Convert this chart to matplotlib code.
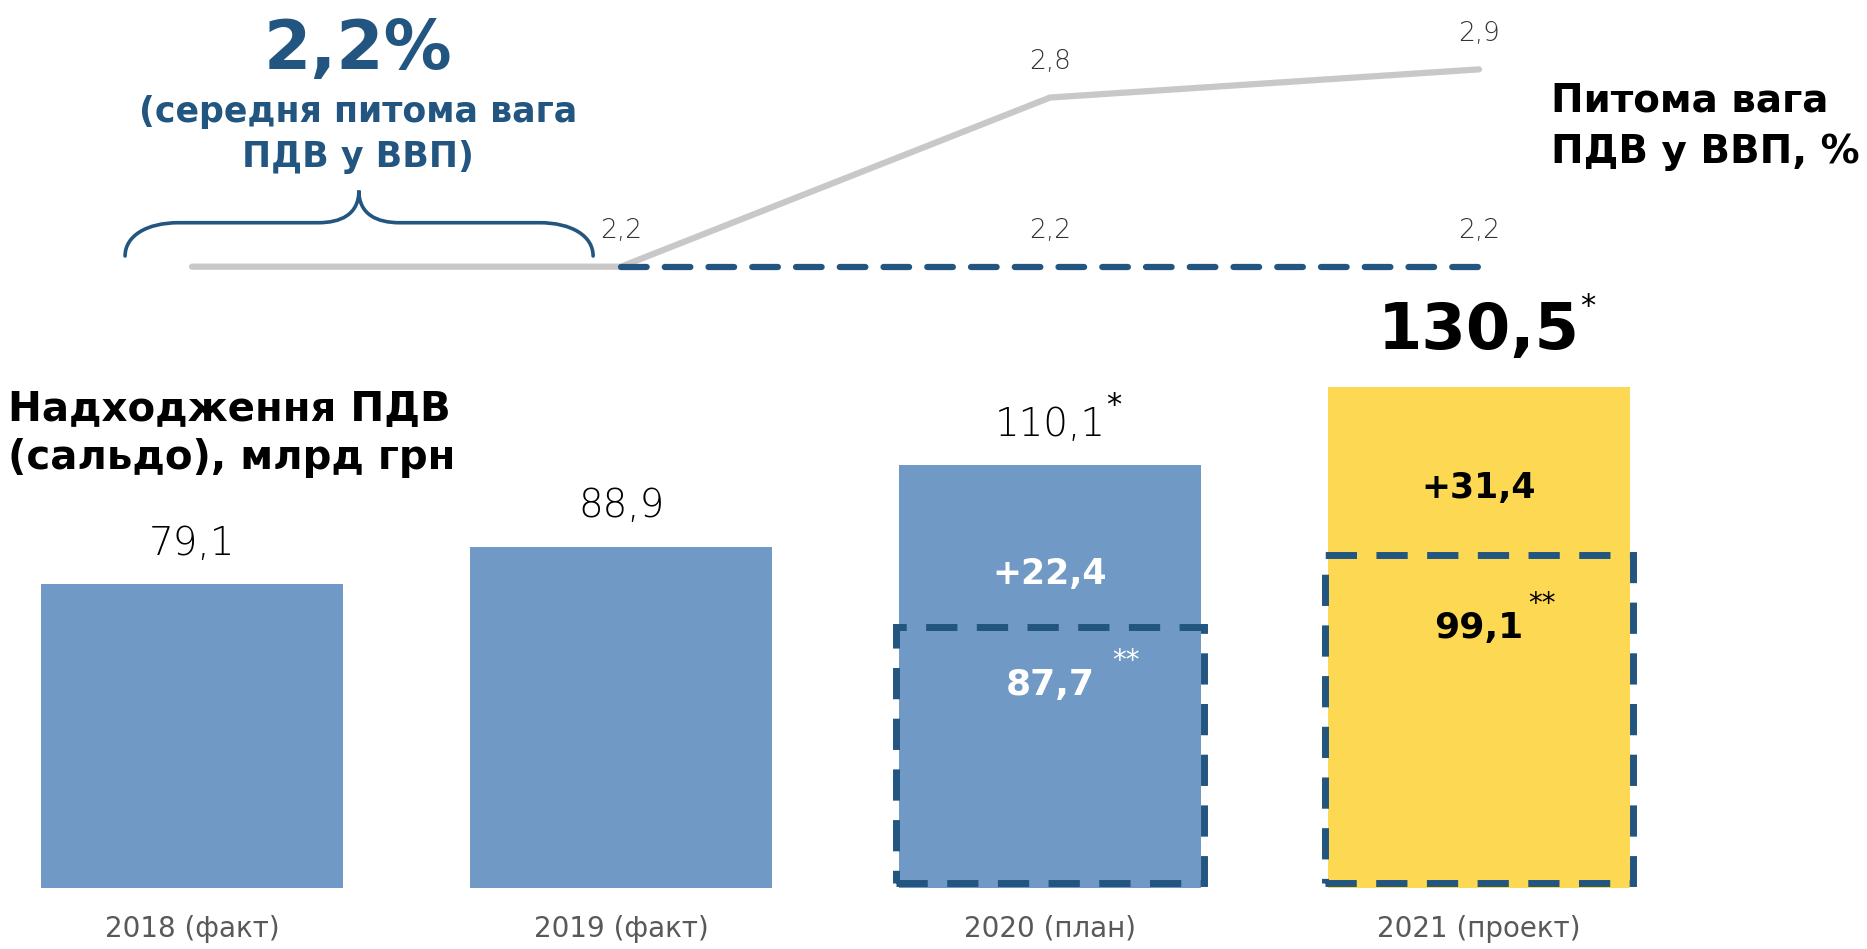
import numpy as np
import matplotlib
matplotlib.use("Agg")
import matplotlib.pyplot as plt
from matplotlib.path import Path
from matplotlib.patches import PathPatch, Rectangle

plt.rcParams['font.family'] = ['DejaVu Sans']

# --- data ---
years = ['2018 (факт)', '2019 (факт)', '2020 (план)', '2021 (проект)']
vat_total = [79.1, 88.9, 110.1, 130.5]
total_labels = ['79,1', '88,9', '110,1', '130,5']
total_stars = ['', '', '*', '*']
base_labels = ['87,7', '99,1']
increment_labels = ['+22,4', '+31,4']
box_top = [67.9, 86.8]            # top of dashed "base" boxes as drawn
share_actual = [2.2, 2.2, 2.8, 2.9]
share_base = [2.2, 2.2, 2.2]      # for 2019..2021
share_actual_labels = ['', '2,2', '2,8', '2,9']
share_base_labels = ['', '2,2', '2,2']

BLUE = '#7099C5'
YELLOW = '#FDD853'
DARK = '#22557F'
GREY_LINE = '#C8C8C8'

fig = plt.figure(figsize=(18.67, 9.49), dpi=100)
W, H = 1867, 949
x = np.arange(len(years))
xlim = (-192 / 429, (W - 192) / 429)

# bars
ax = fig.add_axes([0, 61 / H, 1, 888 / H])
ax.set_xlim(*xlim)
ax.set_ylim(0, 888 / 3.839)
ax.axis('off')
bw = 302 / 429
colors = [BLUE, BLUE, BLUE, YELLOW]
ax.bar(x, vat_total, width=bw, color=colors, zorder=1)

for i, (v, lab, st) in enumerate(zip(vat_total, total_labels, total_stars)):
    if i == 3:
        ax.text(x[i], v + 14.5, lab, ha='center', va='center', fontsize=46,
                fontweight='bold', color='black')
        ax.annotate(st, (x[i], v), xytext=(78, 58), textcoords='offset points',
                    ha='center', va='center', fontsize=22, color='black')
    else:
        ax.text(x[i], v + 10.6, lab, ha='center', va='center', fontsize=28,
                fontweight='light', color='black')
        if st:
            ax.annotate(st, (x[i], v), xytext=(46, 43), textcoords='offset points',
                        ha='center', va='center', fontsize=22, color='black')
    ax.text(x[i], -10.6, years[i], ha='center', va='center', fontsize=20,
            color='#595959')

# dashed boxes and inner labels for 2020, 2021
inner_col = ['white', 'black']
inc_frac = [0.33, 0.40]
star_dx = [55, 45]
for j, i in enumerate([2, 3]):
    rect = Rectangle((x[i] - bw / 2 - 0.008, 1.2), bw + 0.016, box_top[j] - 1.2,
                     fill=False, edgecolor=DARK, linewidth=5,
                     linestyle=(0, (4.5, 2.8)), zorder=3)
    ax.add_patch(rect)
    ax.text(x[i], box_top[j] + inc_frac[j] * (vat_total[i] - box_top[j]),
            increment_labels[j], ha='center', va='center', fontsize=25,
            fontweight='bold', color=inner_col[j])
    by = 0.78 * box_top[j]
    ax.text(x[i], by, base_labels[j], ha='center', va='center', fontsize=26,
            fontweight='bold', color=inner_col[j])
    ax.annotate('**', (x[i], by), xytext=(star_dx[j], 17),
                textcoords='offset points', ha='center', va='center',
                fontsize=20, color=inner_col[j])

# share of VAT in GDP (top line)
ax2 = fig.add_axes([0, 0, 1, 1])
ax2.set_xlim(*xlim)
ax2.set_ylim(-0.2204, -0.2204 + H / 281.9)
ax2.axis('off')
ax2.patch.set_alpha(0)
ax2.plot(x, share_actual, color=GREY_LINE, lw=4.5, solid_capstyle='round', zorder=1)
ax2.plot(x[1:], share_base, color=DARK, lw=4.5, dashes=(4.1, 2.9),
         dash_capstyle='round', zorder=2)
for i, lab in enumerate(share_actual_labels):
    if lab:
        ax2.annotate(lab, (x[i], share_actual[i]), xytext=(0, 26),
                     textcoords='offset points', ha='center', va='center',
                     fontsize=19, fontweight='light', color='#333333')
for k, lab in enumerate(share_base_labels):
    if lab:
        ax2.annotate(lab, (x[k + 1], share_base[k]), xytext=(0, 26),
                     textcoords='offset points', ha='center', va='center',
                     fontsize=19, fontweight='light', color='#333333')

# curly brace over 2018-2019
x0, x1, xm = -0.156, 0.935, 0.389
yb, yh, yt = 2.238, 2.356, 2.470
rx, rm = 0.125, 0.095
verts = [
    (x0, yb), (x0, yb + 0.6 * (yh - yb)), (x0 + 0.4 * rx, yh), (x0 + rx, yh),
    (xm - rm, yh),
    (xm - 0.45 * rm, yh), (xm, yh + 0.25 * (yt - yh)), (xm, yt),
    (xm, yh + 0.25 * (yt - yh)), (xm + 0.45 * rm, yh), (xm + rm, yh),
    (x1 - rx, yh),
    (x1 - 0.4 * rx, yh), (x1, yb + 0.6 * (yh - yb)), (x1, yb),
]
codes = [Path.MOVETO, Path.CURVE4, Path.CURVE4, Path.CURVE4, Path.LINETO,
         Path.CURVE4, Path.CURVE4, Path.CURVE4, Path.CURVE4, Path.CURVE4, Path.CURVE4,
         Path.LINETO, Path.CURVE4, Path.CURVE4, Path.CURVE4]
ax2.add_patch(PathPatch(Path(verts, codes), fill=False, edgecolor=DARK, lw=2.6,
                        capstyle='round'))

# titles
fig.text(358 / W, 1 - 69 / H, '2,2%', ha='center', va='baseline', fontsize=49,
         fontweight='bold', color=DARK)
fig.text(358 / W, 1 - 122 / H, '(середня питома вага', ha='center', va='baseline',
         fontsize=25, fontweight='bold', color=DARK)
fig.text(358 / W, 1 - 167 / H, 'ПДВ у ВВП)', ha='center', va='baseline',
         fontsize=25, fontweight='bold', color=DARK)
fig.text(1551 / W, 1 - 111 / H, 'Питома вага', ha='left', va='baseline',
         fontsize=28, fontweight='bold', color='black')
fig.text(1551 / W, 1 - 163 / H, 'ПДВ у ВВП, %', ha='left', va='baseline',
         fontsize=28, fontweight='bold', color='black')
fig.text(8 / W, 1 - 421 / H, 'Надходження ПДВ', ha='left', va='baseline',
         fontsize=29, fontweight='bold', color='black')
fig.text(8 / W, 1 - 469 / H, '(сальдо), млрд грн', ha='left', va='baseline',
         fontsize=29, fontweight='bold', color='black')

fig.savefig('out.png', dpi=100)
